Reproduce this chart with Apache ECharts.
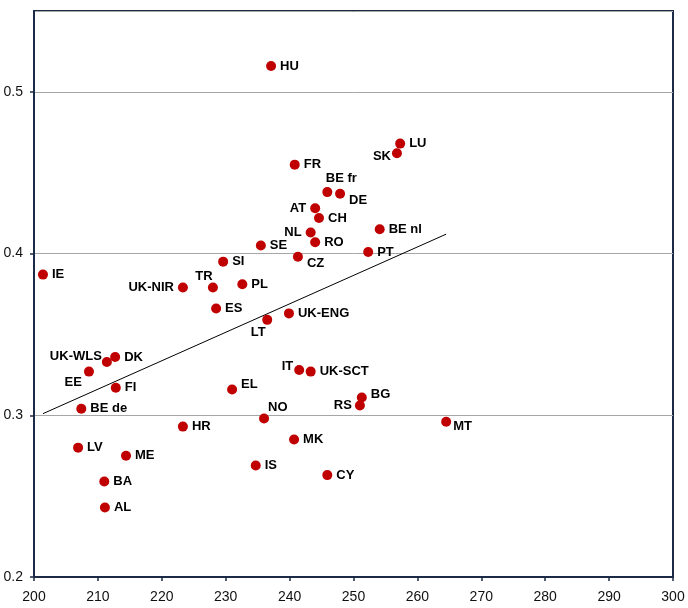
<!DOCTYPE html>
<html><head><meta charset="utf-8">
<script src="https://cdn.jsdelivr.net/npm/echarts@6/dist/echarts.min.js"></script>
<style>html,body{margin:0;padding:0;background:#fff}#c{width:688px;height:608px}</style>
</head><body><div id="c"></div>
<script>
var names = ['HU','LU','SK','FR','BE fr','DE','AT','CH','NL','RO','BE nl','SE','PT','CZ','SI','IE','UK-NIR','TR','PL','ES','UK-ENG','LT','UK-WLS','DK','EE','IT','UK-SCT','FI','EL','BG','RS','BE de','NO','MT','HR','LV','MK','ME','IS','CY','BA','AL'];
var xValues = [237.1,257.3,256.8,240.8,245.9,247.9,244.0,244.6,243.3,244.0,254.1,235.5,252.3,241.3,229.6,201.4,223.3,228.0,232.6,228.5,239.9,236.5,211.4,212.7,208.6,241.5,243.3,212.8,231.0,251.3,251.0,207.4,236.0,264.5,223.3,206.9,240.7,214.4,234.7,245.9,211.0,211.1];
var yValues = [0.516,0.468,0.462,0.455,0.438,0.437,0.428,0.422,0.413,0.407,0.415,0.405,0.401,0.398,0.395,0.387,0.379,0.379,0.381,0.366,0.363,0.359,0.333,0.336,0.327,0.328,0.327,0.317,0.316,0.311,0.306,0.304,0.298,0.296,0.293,0.280,0.285,0.275,0.269,0.263,0.259,0.243];
var trendX = [201.4, 264.5];
var trendY = [0.301, 0.412];
var xTicks = [200,210,220,230,240,250,260,270,280,290,300];
var yTicks = [0.2,0.3,0.4,0.5];

// label placement (style only)
var labelStyle = {
  'SK': {position:'left', offset:[3,3]},
  'BE fr': {position:'top', offset:[14,2]},
  'DE': {position:'right', offset:[0,7]},
  'AT': {position:'left'},
  'NL': {position:'left'},
  'CZ': {position:'right', offset:[0,7]},
  'UK-NIR': {position:'left'},
  'TR': {position:'top', offset:[-9,4]},
  'LT': {position:'bottom', offset:[-9,-3]},
  'UK-WLS': {position:'left', offset:[4,-5]},
  'EE': {position:'left', offset:[2,11]},
  'IT': {position:'left', offset:[3,-4]},
  'EL': {position:'right', offset:[0,-5]},
  'BG': {position:'right', offset:[0,-3]},
  'RS': {position:'left', offset:[1,0]},
  'NO': {position:'right', offset:[-5,-11]},
  'MT': {position:'right', offset:[-2,5]}
};

var pts = names.map(function(n,i){
  var ls = labelStyle[n] || {position:'right'};
  var lab = {position:ls.position};
  if (ls.offset) lab.offset = ls.offset;
  return {name:n, value:[xValues[i], yValues[i]], label:lab};
});
var trend = trendX.map(function(x,i){return [x, trendY[i]];});

var font = 'Arial, "Liberation Sans", sans-serif';
var chart = echarts.init(document.getElementById('c'), null, {renderer:'canvas'});
chart.setOption({
  animation:false,
  backgroundColor:'#fff',
  grid:{left:34, right:15, top:11, bottom:31, show:true, borderColor:'#1b2a47', borderWidth:2, backgroundColor:'transparent'},
  xAxis:{
    type:'value', min:xTicks[0], max:xTicks[xTicks.length-1], interval:10,
    axisLine:{show:true, onZero:false, lineStyle:{color:'#1b2a47', width:2}},
    axisTick:{show:true, inside:false, length:4, lineStyle:{color:'#1b2a47', width:1.5}},
    axisLabel:{color:'#111', fontFamily:font, fontSize:14, margin:13},
    splitLine:{show:false}
  },
  yAxis:{
    type:'value', min:yTicks[0], max:0.55, interval:0.1,
    axisLine:{show:true, onZero:false, lineStyle:{color:'#1b2a47', width:2}},
    axisTick:{show:true, inside:false, length:4, lineStyle:{color:'#1b2a47', width:1.5}},
    axisLabel:{color:'#111', fontFamily:font, fontSize:14, margin:11, showMaxLabel:false,
      formatter:function(v){var r=Math.round(v*10)/10; return (Math.abs(v-r)<1e-9 && yTicks.indexOf(r)>=0) ? String(r) : '';}},
    splitLine:{show:true, lineStyle:{color:'#a6a6a6', width:1}}
  },
  series:[
    {type:'line', data:trend, symbol:'none', lineStyle:{color:'#000', width:1}, silent:true, z:1},
    {type:'scatter', data:pts, symbol:'circle', symbolSize:10,
      itemStyle:{color:'#c00000', opacity:1}, z:3,
      label:{show:true, formatter:'{b}', fontFamily:'Arial, "Liberation Sans", sans-serif', fontWeight:'bold', fontSize:13, color:'#000', distance:4}
    }
  ]
});
</script></body></html>
